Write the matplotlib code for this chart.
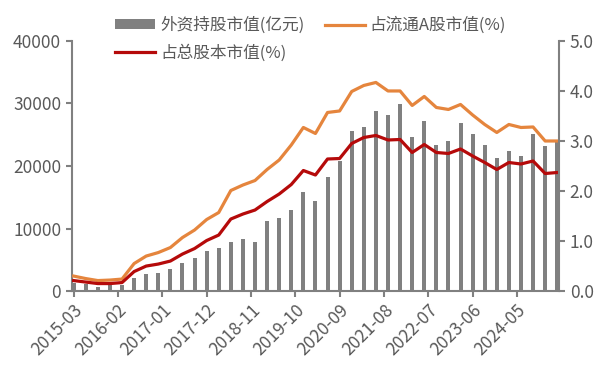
import matplotlib
matplotlib.use("Agg")
import matplotlib.pyplot as plt
import pandas as pd

plt.rcParams['font.family'] = ['Noto Sans CJK SC', 'DejaVu Sans']

# quarterly data, 2015-03 .. 2025-03
dates = pd.date_range('2015-03-31', '2025-03-31', freq='QE')

holdings = [1330, 1070, 690, 1070, 900, 2130, 2670, 2930, 3570, 4530,
            5330, 6450, 6930, 7890, 8370, 7890, 11250, 11730, 13000, 15890,
            14450, 18290, 20850, 25650, 26240, 28800, 28160, 29970, 24640, 27200,
            23360, 24050, 26880, 25120, 23360, 21280, 22400, 21600, 25120, 23200,
            24000]

share_float = [0.30, 0.25, 0.21, 0.22, 0.24, 0.55, 0.70, 0.77, 0.87, 1.07,
               1.22, 1.43, 1.57, 2.01, 2.12, 2.21, 2.43, 2.62, 2.92, 3.27,
               3.15, 3.57, 3.60, 3.99, 4.11, 4.17, 4.00, 4.00, 3.71, 3.89,
               3.67, 3.63, 3.73, 3.52, 3.33, 3.17, 3.33, 3.27, 3.28, 3.00,
               3.00]

share_total = [0.21, 0.18, 0.15, 0.15, 0.17, 0.39, 0.50, 0.54, 0.60, 0.74,
               0.85, 1.01, 1.12, 1.44, 1.54, 1.62, 1.79, 1.94, 2.13, 2.41,
               2.32, 2.64, 2.65, 2.95, 3.07, 3.11, 3.02, 3.03, 2.77, 2.93,
               2.77, 2.75, 2.84, 2.70, 2.57, 2.43, 2.57, 2.54, 2.60, 2.35,
               2.37]

tick_labels = ['2015-03', '2016-02', '2017-01', '2017-12', '2018-11', '2019-10',
               '2020-09', '2021-08', '2022-07', '2023-06', '2024-05']

# month index on a date axis (months since 2015-03)
x = [(d.year - 2015) * 12 + d.month - 3 for d in dates]
tick_pos = [(int(s[:4]) - 2015) * 12 + int(s[5:]) - 3 for s in tick_labels]

GRAY = '#808080'
TXT = '#595959'
ORANGE = '#E5853D'
RED = '#B50A0A'

fig = plt.figure(figsize=(6.02, 3.79), dpi=100)
ax = fig.add_axes([0.119, 0.232, 0.810, 0.660])
ax2 = ax.twinx()

bars = ax.bar(x, holdings, width=1.0, color=GRAY, label='外资持股市值(亿元)')
l1, = ax2.plot(x, share_float, color=ORANGE, lw=2.3, label='占流通A股市值(%)')
l2, = ax2.plot(x, share_total, color=RED, lw=2.3, label='占总股本市值(%)')

ax.set_xlim(-0.5, 120.5)
ax.set_ylim(0, 40000)
ax.set_yticks(range(0, 40001, 10000))
ax2.set_ylim(0, 5)
ax2.set_yticks([0, 1, 2, 3, 4, 5])
ax2.set_yticklabels(['%.1f' % v for v in [0, 1, 2, 3, 4, 5]])

ax.set_xticks(tick_pos)
ax.set_xticklabels(tick_labels, rotation=45, ha='right', rotation_mode='anchor')

for a in (ax, ax2):
    a.spines['top'].set_visible(False)
    for s in ('left', 'right', 'bottom'):
        a.spines[s].set_color(GRAY)
        a.spines[s].set_linewidth(1.5)
    a.tick_params(colors=GRAY, labelcolor=TXT, labelsize=12.5, length=4, width=1.5)
ax.spines['right'].set_visible(False)
ax2.spines['left'].set_visible(False)
ax2.spines['bottom'].set_visible(False)
ax.tick_params(axis='x', pad=3)

fig.legend([bars, l2, l1], ['外资持股市值(亿元)', '占总股本市值(%)', '占流通A股市值(%)'],
           ncol=2, loc='upper left', bbox_to_anchor=(0.175, 0.982), frameon=False,
           fontsize=12, handlelength=2.4, handleheight=0.5, labelspacing=0.6,
           columnspacing=1.2, handletextpad=0.3, labelcolor=TXT, borderaxespad=0.2)

fig.savefig('out.png', dpi=100)
